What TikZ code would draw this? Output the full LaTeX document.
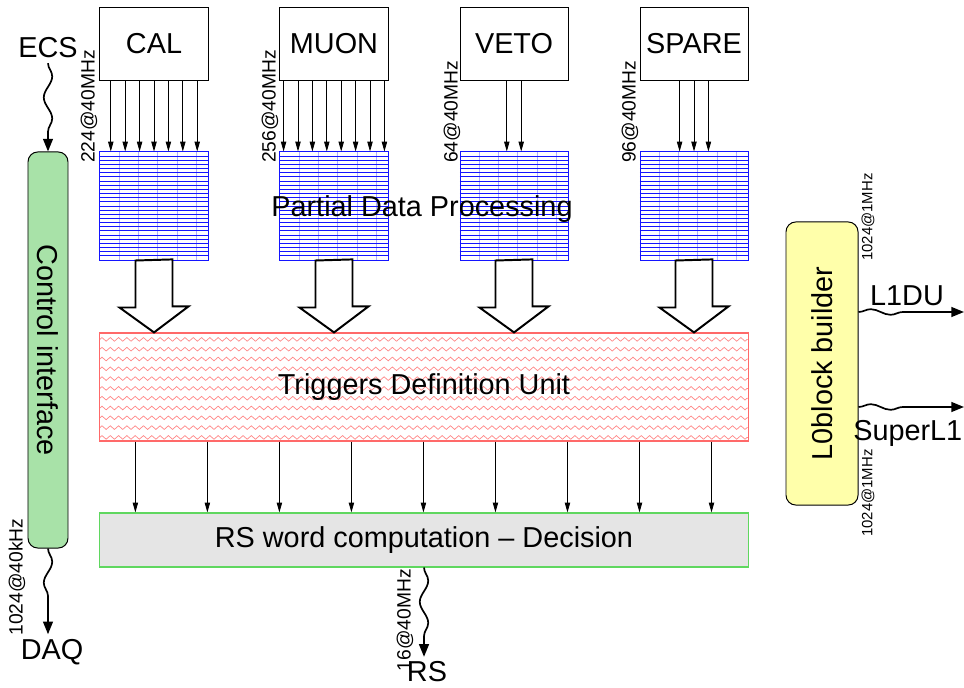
\documentclass[tikz,border=0pt]{standalone}
\usepackage{fontspec}
\setmainfont{Liberation Sans}
\usetikzlibrary{arrows.meta,decorations.pathmorphing}

\definecolor{ciGreen}{RGB}{168,226,168}
\definecolor{lbYellow}{RGB}{255,255,170}
\definecolor{tduRed}{RGB}{255,105,105}
\definecolor{rsGray}{RGB}{229,229,229}
\definecolor{rsGreen}{RGB}{95,215,95}
\definecolor{gridBlue}{RGB}{20,20,255}

\begin{document}
\begin{tikzpicture}[
    x=0.025cm, y=-0.025cm,
    big/.style={font=\fontsize{20.5}{24}\selectfont},
    rate/.style={font=\fontsize{13.7}{16}\selectfont, inner sep=0pt, rotate=90},
    smallrate/.style={font=\fontsize{10.6}{12}\selectfont, inner sep=0pt, rotate=90},
    srcbox/.style={big, draw, line width=0.7pt, minimum width=2.7cm, minimum height=1.8cm, inner sep=0pt},
    procbox/.style={draw=gridBlue, line width=0.7pt, minimum width=2.7cm, minimum height=2.7cm, inner sep=0pt,
        path picture={
            \foreach \k in {1,...,5}
                \draw[gridBlue!35, line width=0.4pt] ([xshift={\k*0.48cm}]path picture bounding box.north west)
                    -- ([xshift={\k*0.48cm}]path picture bounding box.south west);
            \foreach \k in {1,...,25}
                \draw[gridBlue, line width=0.6pt] ([yshift={-\k*0.1038cm}]path picture bounding box.north west)
                    -- ([yshift={-\k*0.1038cm}]path picture bounding box.north east);
        }},
    tdubox/.style={big, draw=tduRed, line width=0.8pt, minimum width=16.2cm, minimum height=2.7cm, inner sep=0pt,
        path picture={
            \foreach \k in {0,...,10}
                \draw[tduRed!80, line width=0.5pt, decorate, decoration={zigzag, segment length=5.9pt, amplitude=1.3pt}]
                    ([yshift={-0.16cm-\k*0.245cm}]path picture bounding box.north west)
                    -- ([yshift={-0.16cm-\k*0.245cm}]path picture bounding box.north east);
        }},
    rsbox/.style={big, draw=rsGreen, fill=rsGray, line width=0.8pt, minimum width=16.2cm, minimum height=1.35cm, inner sep=0pt},
    sidebox/.style={big, draw, line width=0.7pt, rounded corners=7pt, inner sep=0pt},
    sig/.style={-{Triangle[length=7pt, width=3.8pt]}, line width=0.6pt},
    wave/.style={-{Triangle[length=9pt, width=7pt]}, line width=1.2pt, decorate,
        decoration={snake, segment length=30pt, amplitude=3pt, post length=14pt}},
    bigarrow/.style={draw, fill=white, line width=1.4pt, line join=miter}
]
    \useasboundingbox (0,0) rectangle (964,688);

    % sources
    \node[srcbox] (cal) at (154,44) {CAL};
    \node[srcbox] (muon) at (334,44) {MUON};
    \node[srcbox] (veto) at (514,44) {VETO};
    \node[srcbox] (spare) at (694,44) {SPARE};

    % partial data processing
    \node[procbox] (cal-p) at (154,206) {};
    \node[procbox] (muon-p) at (334,206) {};
    \node[procbox] (veto-p) at (514,206) {};
    \node[procbox] (spare-p) at (694,206) {};
    \node[big] (pdp) at (422,209) {Partial Data Processing};

    % input links
    \foreach \s/\n in {cal/7, muon/8, veto/2, spare/3}
        \foreach \k in {1,...,\n}
            \draw[sig] ([xshift={(\k-(\n+1)/2)*0.36cm}]\s.south) -- ([xshift={(\k-(\n+1)/2)*0.36cm}]\s-p.north);

    \node[rate, anchor=west] (cal-r) at (89,163) {224@40MHz};
    \node[rate, anchor=west] (muon-r) at (270,163) {256@40MHz};
    \node[rate, anchor=west] (veto-r) at (452,163) {64@40MHz};
    \node[rate, anchor=west] (spare-r) at (630,163) {96@40MHz};

    % trigger definition + decision
    \node[tdubox] (tdu) at (424,387) {Triggers Definition Unit};
    \node[rsbox] (rsw) at (424,540) {RS word computation -- Decision};

    % block arrows
    \foreach \s in {cal, muon, veto, spare}
        \draw[bigarrow] ([xshift=-0.4625cm]\s-p.south) -- ++(0,47) -- ++(-16,0)
            -- (\s-p.south |- tdu.north) -- ++(34.5,-26) -- ++(-16,0) -- ++(0,-47) -- cycle;

    \foreach \i in {0,...,8}
        \draw[sig] ([xshift={0.9cm+\i*1.8cm}]tdu.south west) -- ([xshift={0.9cm+\i*1.8cm}]rsw.north west);

    % control interface
    \node[sidebox, fill=ciGreen, rotate=-90, minimum width=9.9cm, minimum height=1cm] (ci) at (48,350) {\raisebox{0pt}{Control interface}\hspace{0.45cm}};
    \node[big] (ecs) at (48,48) {ECS};
    \node[big] (daq) at (52,652) {DAQ};
    \draw[wave] (ecs) -- (ci);
    \draw[wave] (ci) -- (ci |- daq.north);
    \node[rate] (daq-r) at (17,577) {1024@40kHz};

    % output word
    \node[big] (rs) at (427,672) {RS};
    \draw[wave] (rsw) -- (rsw |- rs.north);
    \node[rate] (rs-r) at (405,620) {16@40MHz};

    % L0 block builder
    \node[sidebox, fill=lbYellow, rotate=90, minimum width=7.075cm, minimum height=1.8cm] (l0b) at (822,363.5) {L0block builder};
    \coordinate (l1du-out) at (964,312);
    \coordinate (superl1-out) at (964,407);
    \draw[wave, decoration={segment length=28pt, amplitude=2pt, post length=30pt}] (l0b.south |- l1du-out) -- (l1du-out);
    \draw[wave, decoration={segment length=28pt, amplitude=2pt, post length=30pt}] (l0b.south |- superl1-out) -- (superl1-out);
    \node[big] (l1du) at (907,296) {L1DU};
    \node[big, anchor=west, inner sep=0pt] (superl1) at (853,433) {SuperL1};
    \node[smallrate] (l1du-r) at (868,217) {1024@1MHz};
    \node[smallrate] (superl1-r) at (868,493) {1024@1MHz};
\end{tikzpicture}
\end{document}
